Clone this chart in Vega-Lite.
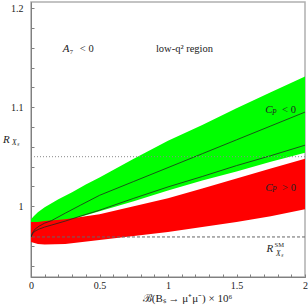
{
  "$schema": "https://vega.github.io/schema/vega-lite/v6.json",
  "width": 274,
  "height": 275,
  "autosize": "none",
  "padding": {"left": 31, "top": 2, "right": 3, "bottom": 31},
  "background": "white",
  "resolve": {"scale": {"x": "shared", "y": "shared"}, "axis": {"x": "independent", "y": "independent"}},
  "config": {
    "view": {"stroke": "#b0b0b0", "strokeWidth": 1.5},
    "font": "Liberation Serif",
    "axis": {
      "domainColor": "#808080",
      "tickColor": "#808080",
      "tickSize": -3,
      "grid": false,
      "labelFont": "Liberation Serif",
      "labelFontSize": 10,
      "labelColor": "#222222",
      "labelOverlap": false,
      "labelFlush": false,
      "titleFont": "Liberation Serif",
      "titleFontWeight": "normal",
      "titleFontSize": 10,
      "titleColor": "#222222"
    }
  },
  "datasets": {
    "green": [
      {"x": 0, "lo": 0.983, "hi": 0.987},
      {"x": 0.02, "lo": 0.9825, "hi": 0.990},
      {"x": 0.05, "lo": 0.982, "hi": 0.994},
      {"x": 0.1, "lo": 0.982, "hi": 0.999},
      {"x": 0.2, "lo": 0.984, "hi": 1.007},
      {"x": 0.3, "lo": 0.987, "hi": 1.014},
      {"x": 0.4, "lo": 0.991, "hi": 1.022},
      {"x": 0.5, "lo": 0.995, "hi": 1.029},
      {"x": 0.75, "lo": 1.005, "hi": 1.048},
      {"x": 1.0, "lo": 1.016, "hi": 1.066},
      {"x": 1.25, "lo": 1.026, "hi": 1.082},
      {"x": 1.5, "lo": 1.035, "hi": 1.099},
      {"x": 1.75, "lo": 1.045, "hi": 1.115},
      {"x": 2.0, "lo": 1.054, "hi": 1.131}
    ],
    "red": [
      {"x": 0, "lo": 0.964, "hi": 0.984},
      {"x": 0.05, "lo": 0.962, "hi": 0.984},
      {"x": 0.1, "lo": 0.9615, "hi": 0.985},
      {"x": 0.25, "lo": 0.962, "hi": 0.987},
      {"x": 0.5, "lo": 0.966, "hi": 0.992},
      {"x": 0.75, "lo": 0.970, "hi": 1.000},
      {"x": 1.0, "lo": 0.974, "hi": 1.008},
      {"x": 1.25, "lo": 0.979, "hi": 1.018},
      {"x": 1.5, "lo": 0.984, "hi": 1.028},
      {"x": 1.75, "lo": 0.990, "hi": 1.038},
      {"x": 2.0, "lo": 0.997, "hi": 1.048}
    ],
    "curves": [
      {"c": "upper", "x": 0, "y": 0.969},
      {"c": "upper", "x": 0.01, "y": 0.973},
      {"c": "upper", "x": 0.03, "y": 0.977},
      {"c": "upper", "x": 0.06, "y": 0.980},
      {"c": "upper", "x": 0.1, "y": 0.983},
      {"c": "upper", "x": 0.15, "y": 0.9855},
      {"c": "upper", "x": 0.25, "y": 0.993},
      {"c": "upper", "x": 0.36, "y": 1.001},
      {"c": "upper", "x": 0.5, "y": 1.011},
      {"c": "upper", "x": 0.75, "y": 1.025},
      {"c": "upper", "x": 1.0, "y": 1.039},
      {"c": "upper", "x": 1.25, "y": 1.053},
      {"c": "upper", "x": 1.5, "y": 1.067},
      {"c": "upper", "x": 1.75, "y": 1.081},
      {"c": "upper", "x": 2.0, "y": 1.095},
      {"c": "lower", "x": 0, "y": 0.969},
      {"c": "lower", "x": 0.01, "y": 0.972},
      {"c": "lower", "x": 0.03, "y": 0.975},
      {"c": "lower", "x": 0.06, "y": 0.977},
      {"c": "lower", "x": 0.1, "y": 0.979},
      {"c": "lower", "x": 0.15, "y": 0.981},
      {"c": "lower", "x": 0.25, "y": 0.985},
      {"c": "lower", "x": 0.36, "y": 0.990},
      {"c": "lower", "x": 0.5, "y": 0.996},
      {"c": "lower", "x": 0.75, "y": 1.008},
      {"c": "lower", "x": 1.0, "y": 1.0195},
      {"c": "lower", "x": 1.25, "y": 1.030},
      {"c": "lower", "x": 1.5, "y": 1.041},
      {"c": "lower", "x": 1.75, "y": 1.051},
      {"c": "lower", "x": 2.0, "y": 1.0616}
    ],
    "italicBig": [
      {"t": "A", "x": 0.256, "y": 1.1586},
      {"t": "C", "x": 1.736, "y": 1.097},
      {"t": "C", "x": 1.736, "y": 1.0187},
      {"t": "R", "x": 1.744, "y": 0.9571},
      {"t": "R", "x": -0.18, "y": 1.0672}
    ],
    "italicSub": [
      {"t": "P", "x": 1.775, "y": 1.0945},
      {"t": "P", "x": 1.775, "y": 1.0162},
      {"t": "Xₛ", "x": 1.812, "y": 0.9522},
      {"t": "Xₛ", "x": -0.115, "y": 1.0641}
    ],
    "uprightSub": [
      {"t": "7", "x": 0.295, "y": 1.1556},
      {"t": "SM", "x": 1.812, "y": 0.9612}
    ],
    "upright": [
      {"t": "< 0", "x": 0.407, "y": 1.1586},
      {"t": "low-q² region", "x": 1.12, "y": 1.1586},
      {"t": "< 0", "x": 1.883, "y": 1.097},
      {"t": "> 0", "x": 1.883, "y": 1.0187}
    ]
  },
  "layer": [
    {
      "data": {"name": "green"},
      "mark": {"type": "area", "color": "#00ff00", "opacity": 1, "clip": true},
      "encoding": {
        "x": {"field": "x", "type": "quantitative", "scale": {"domain": [0, 2], "nice": false, "zero": false},
          "axis": {
            "orient": "bottom",
            "values": [0, 0.1, 0.2, 0.3, 0.4, 0.5, 0.6, 0.7, 0.8, 0.9, 1, 1.1, 1.2, 1.3, 1.4, 1.5, 1.6, 1.7, 1.8, 1.9, 2],
            "labels": false,
            "title": null
          }},
        "y": {"field": "lo", "type": "quantitative", "scale": {"domain": [0.9286, 1.2061], "nice": false, "zero": false},
          "axis": {
            "orient": "left",
            "values": [0.94, 0.96, 0.98, 1, 1.02, 1.04, 1.06, 1.08, 1.1, 1.12, 1.14, 1.16, 1.18, 1.2],
            "labels": false,
            "title": null
          }},
        "y2": {"field": "hi"}
      }
    },
    {
      "data": {"name": "red"},
      "mark": {"type": "area", "color": "#ff0000", "opacity": 1, "clip": true},
      "encoding": {
        "x": {"field": "x", "type": "quantitative", "scale": {"domain": [0, 2], "nice": false, "zero": false},
          "axis": {
            "orient": "bottom",
            "values": [0, 0.5, 1, 1.5, 2],
            "format": "~g",
            "ticks": false,
            "labelOverlap": false,
            "labelFlush": false,
            "labelPadding": 3,
            "title": "ℬ(Bₛ → μ⁺μ⁻) × 10⁶",
            "titleFontSize": 11,
            "titleX": 156,
            "titleY": 15,
            "titleAlign": "center",
            "titleBaseline": "top"
          }},
        "y": {"field": "lo", "type": "quantitative", "scale": {"domain": [0.9286, 1.2061], "nice": false, "zero": false},
          "axis": {
            "orient": "left",
            "values": [1, 1.1, 1.2],
            "format": "~g",
            "ticks": false,
            "labelOverlap": false,
            "labelFlush": false,
            "labelPadding": 8,
            "title": null
          }},
        "y2": {"field": "hi"}
      }
    },
    {
      "data": {"name": "curves"},
      "mark": {"type": "line", "color": "#1e2a1e", "strokeWidth": 0.8, "clip": true},
      "encoding": {
        "x": {"field": "x", "type": "quantitative", "scale": {"domain": [0, 2], "nice": false, "zero": false}, "axis": null},
        "y": {"field": "y", "type": "quantitative", "scale": {"domain": [0.9286, 1.2061], "nice": false, "zero": false}, "axis": null},
        "detail": {"field": "c", "type": "nominal"}
      }
    },
    {
      "data": {"values": [{"y": 1.05}]},
      "mark": {"type": "rule", "color": "#888888", "strokeWidth": 1, "strokeDash": [1, 2]},
      "encoding": {
        "y": {"field": "y", "type": "quantitative", "scale": {"domain": [0.9286, 1.2061], "nice": false, "zero": false}, "axis": null}
      }
    },
    {
      "data": {"values": [{"y": 0.969}]},
      "mark": {"type": "rule", "color": "#666666", "strokeWidth": 1, "strokeDash": [3, 2]},
      "encoding": {
        "y": {"field": "y", "type": "quantitative", "scale": {"domain": [0.9286, 1.2061], "nice": false, "zero": false}, "axis": null}
      }
    },
    {
      "data": {"name": "italicBig"},
      "mark": {"type": "text", "font": "Liberation Serif", "fontSize": 11, "fontStyle": "italic", "color": "#222222", "align": "center", "baseline": "middle"},
      "encoding": {
        "x": {"field": "x", "type": "quantitative", "scale": {"domain": [0, 2], "nice": false, "zero": false}, "axis": null},
        "y": {"field": "y", "type": "quantitative", "scale": {"domain": [0.9286, 1.2061], "nice": false, "zero": false}, "axis": null},
        "text": {"field": "t"}
      }
    },
    {
      "data": {"name": "italicSub"},
      "mark": {"type": "text", "font": "Liberation Serif", "fontSize": 7.5, "fontStyle": "italic", "color": "#222222", "align": "center", "baseline": "middle"},
      "encoding": {
        "x": {"field": "x", "type": "quantitative", "scale": {"domain": [0, 2], "nice": false, "zero": false}, "axis": null},
        "y": {"field": "y", "type": "quantitative", "scale": {"domain": [0.9286, 1.2061], "nice": false, "zero": false}, "axis": null},
        "text": {"field": "t"}
      }
    },
    {
      "data": {"name": "uprightSub"},
      "mark": {"type": "text", "font": "Liberation Serif", "fontSize": 6.5, "color": "#222222", "align": "center", "baseline": "middle"},
      "encoding": {
        "x": {"field": "x", "type": "quantitative", "scale": {"domain": [0, 2], "nice": false, "zero": false}, "axis": null},
        "y": {"field": "y", "type": "quantitative", "scale": {"domain": [0.9286, 1.2061], "nice": false, "zero": false}, "axis": null},
        "text": {"field": "t"}
      }
    },
    {
      "data": {"name": "upright"},
      "mark": {"type": "text", "font": "Liberation Serif", "fontSize": 10.5, "color": "#222222", "align": "center", "baseline": "middle"},
      "encoding": {
        "x": {"field": "x", "type": "quantitative", "scale": {"domain": [0, 2], "nice": false, "zero": false}, "axis": null},
        "y": {"field": "y", "type": "quantitative", "scale": {"domain": [0.9286, 1.2061], "nice": false, "zero": false}, "axis": null},
        "text": {"field": "t"}
      }
    }
  ]
}
